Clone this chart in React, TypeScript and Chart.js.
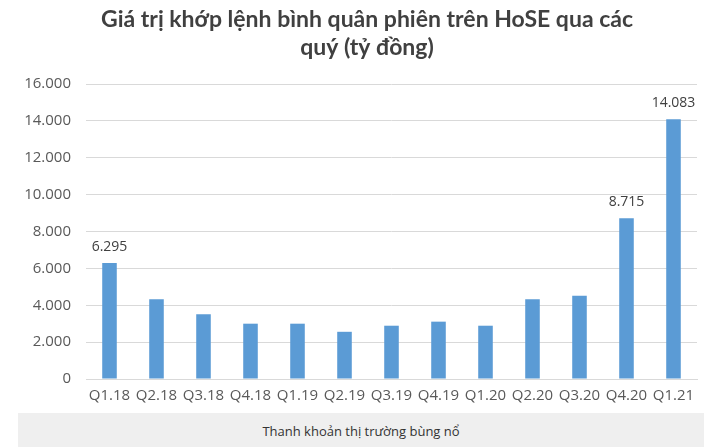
import React, { useEffect, useRef } from "react";
import { Chart, registerables } from "chart.js";

Chart.register(...registerables);

const categories = ["Q1.18", "Q2.18", "Q3.18", "Q4.18", "Q1.19", "Q2.19", "Q3.19", "Q4.19", "Q1.20", "Q2.20", "Q3.20", "Q4.20", "Q1.21"];
const values = [6295, 4330, 3510, 3000, 3000, 2560, 2890, 3110, 2890, 4330, 4510, 8715, 14083];
const labeledCategories = ["Q1.18", "Q4.20", "Q1.21"];
const titleLines = ["Giá trị khớp lệnh bình quân phiên trên HoSE qua các", "quý (tỷ đồng)"];
const caption = "Thanh khoản thị trường bùng nổ";
const yMin = 0;
const yMax = 16000;
const yStep = 2000;

const fmt = (v: number) => String(Math.round(v)).replace(/\B(?=(\d{3})+(?!\d))/g, ".");

const titlePlugin = {
  id: "customTitle",
  afterDraw(chart: any) {
    const ctx = chart.ctx;
    ctx.save();
    ctx.fillStyle = "#404040";
    ctx.font = "bold 23px Lato";
    ctx.textAlign = "center";
    ctx.textBaseline = "middle";
    titleLines.forEach((line, i) => {
      ctx.fillText(line, 367, 20 + i * 28);
    });
    ctx.restore();
  },
};

const valueLabelPlugin = {
  id: "valueLabels",
  afterDatasetsDraw(chart: any) {
    const ctx = chart.ctx;
    const meta = chart.getDatasetMeta(0);
    ctx.save();
    ctx.fillStyle = "#404040";
    ctx.font = "14px 'Open Sans'";
    ctx.textAlign = "center";
    ctx.textBaseline = "middle";
    meta.data.forEach((bar: any, i: number) => {
      if (!labeledCategories.includes(categories[i])) return;
      ctx.fillText(fmt(values[i]), bar.x, bar.y - 16);
    });
    ctx.restore();
  },
};

export default function App() {
  const ref = useRef<HTMLCanvasElement>(null);
  useEffect(() => {
    if (!ref.current) return;
    const chart = new Chart(ref.current, {
      type: "bar",
      data: {
        labels: categories,
        datasets: [
          {
            data: values,
            backgroundColor: "#5b9bd5",
            borderWidth: 0,
            categoryPercentage: 1,
            barPercentage: 0.31,
          },
        ],
      },
      options: {
        responsive: false,
        animation: false,
        layout: { padding: { top: 84, right: 13, bottom: 0, left: 0 } },
        plugins: {
          legend: { display: false },
          title: { display: false },
          tooltip: { enabled: false },
        },
        scales: {
          x: {
            grid: { display: false, drawTicks: false },
            border: { display: true, color: "#d9d9d9", width: 1 },
            ticks: { color: "#595959", font: { family: "'Open Sans'", size: 15 }, padding: 8, maxRotation: 0 },
          },
          y: {
            min: yMin,
            max: yMax,
            afterFit: (scale: any) => {
              scale.width = 86;
            },
            grid: { color: "#d9d9d9", drawTicks: false },
            border: { display: false },
            ticks: {
              stepSize: yStep,
              color: "#595959",
              font: { family: "'Open Sans'", size: 15 },
              padding: 15,
              callback: (v: any) => fmt(Number(v)),
            },
          },
        },
      },
      plugins: [titlePlugin, valueLabelPlugin],
    });
    return () => chart.destroy();
  }, []);

  return (
    <div style={{ position: "absolute", left: 0, top: 0, width: 710, height: 447, background: "#fff", overflow: "hidden" }}>
      <canvas ref={ref} width={710} height={413} style={{ display: "block", width: 710, height: 413 }} />
      <div
        style={{
          position: "absolute",
          left: 18,
          top: 413,
          width: 686,
          height: 34,
          background: "#efefef",
          color: "#333",
          fontFamily: "'Open Sans'",
          fontSize: 13,
          textAlign: "center",
          lineHeight: "36px",
        }}
      >
        {caption}
      </div>
    </div>
  );
}
